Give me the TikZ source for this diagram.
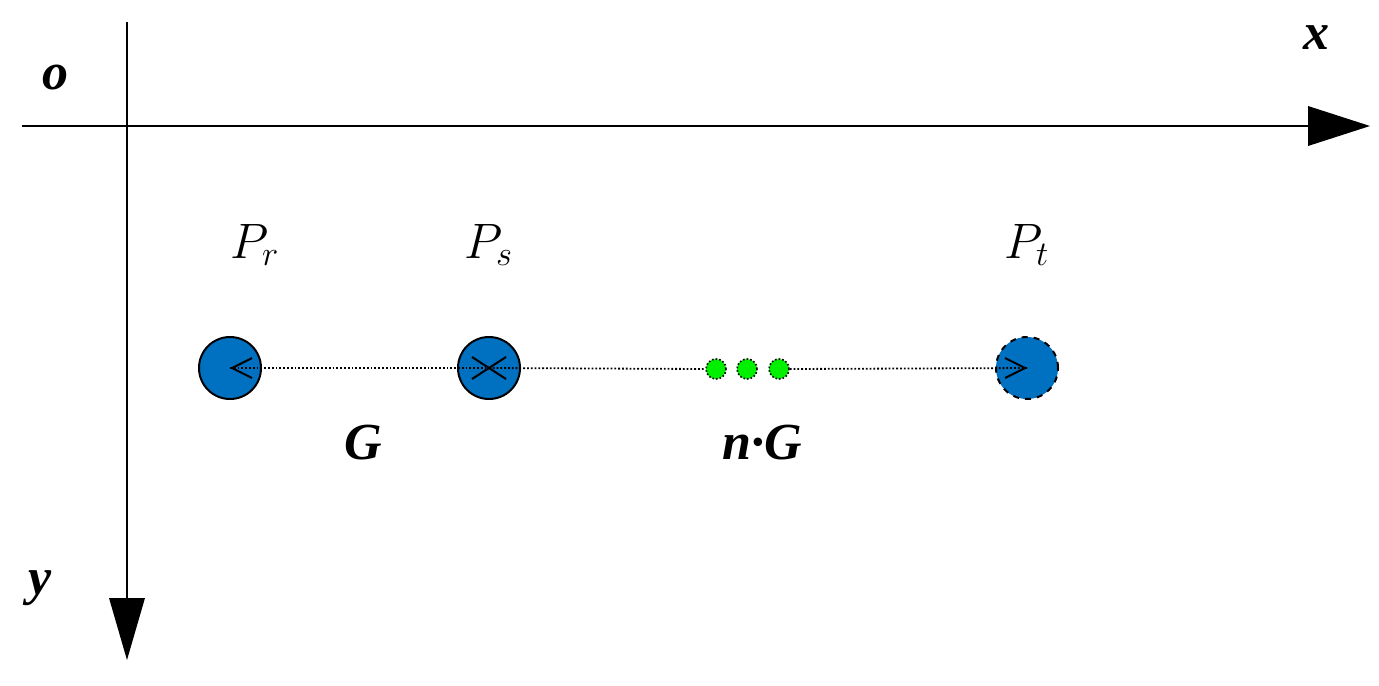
\documentclass[tikz,border=0pt]{standalone}
\usepackage{fontspec}
\setmainfont{Liberation Serif}
\begin{document}
\begin{tikzpicture}[x=0.5pt,y=-0.5pt,
  lbl/.style={font=\fontsize{26}{28}\selectfont\bfseries\itshape},
  plbl/.style={font=\fontsize{24}{26}\selectfont\itshape},
  blue/.style={circle,draw=black,line width=1pt,fill={rgb,255:red,0;green,112;blue,192},minimum size=31pt,inner sep=0},
  green/.style={circle,draw=black,densely dotted,line width=0.8pt,fill={rgb,255:red,0;green,240;blue,0},minimum size=10pt,inner sep=0},
  dl/.style={densely dotted,line width=0.9pt}]
\useasboundingbox (0,0) rectangle (1379,685);
\coordinate (xa) at (22,126); \coordinate (xb) at (1308,126);
\coordinate (ya) at (127,22); \coordinate (yb) at (127,598);
\draw[line width=1pt] (xa) -- (xb);
\fill (1308,106) -- (1370,126) -- (1308,146) -- cycle;
\draw[line width=1pt] (ya) -- (yb);
\fill (109,598) -- (127,660) -- (145,598) -- cycle;
\node[lbl] (o) at (55,78) {o};
\node[lbl] (x) at (1316,38) {x};
\node[lbl] (y) at (40,588) {y};
\node[blue] (r) at (230,368) {};
\node[blue] (s) at (489,368) {};
\node[blue,dashed] (t) at (1027,368) {};
\node[green] (g1) at (716,369) {};
\node[green] (g2) at (747,369) {};
\node[green] (g3) at (779,369) {};
\draw[dl] (r.center) -- (s.center);
\draw[dl] (s.center) -- (g1.west);
\draw[dl] (g3.east) -- (t.center);
\draw[line width=1pt] (252,358) -- (232,368) -- (252,378);
\draw[line width=1pt] (1005,358) -- (1025,368) -- (1005,378);
\draw[line width=1pt] (472,357) -- (506,379) (472,379) -- (506,357);
\node[plbl] (pr) at (255,245) {$P_r$};
\node[plbl] (ps) at (489,245) {$P_s$};
\node[plbl] (pt) at (1027,245) {$P_t$};
\node[lbl] (G) at (363,443) {G};
\node[lbl] (nG) at (762,443) {n·G};
\end{tikzpicture}
\end{document}
